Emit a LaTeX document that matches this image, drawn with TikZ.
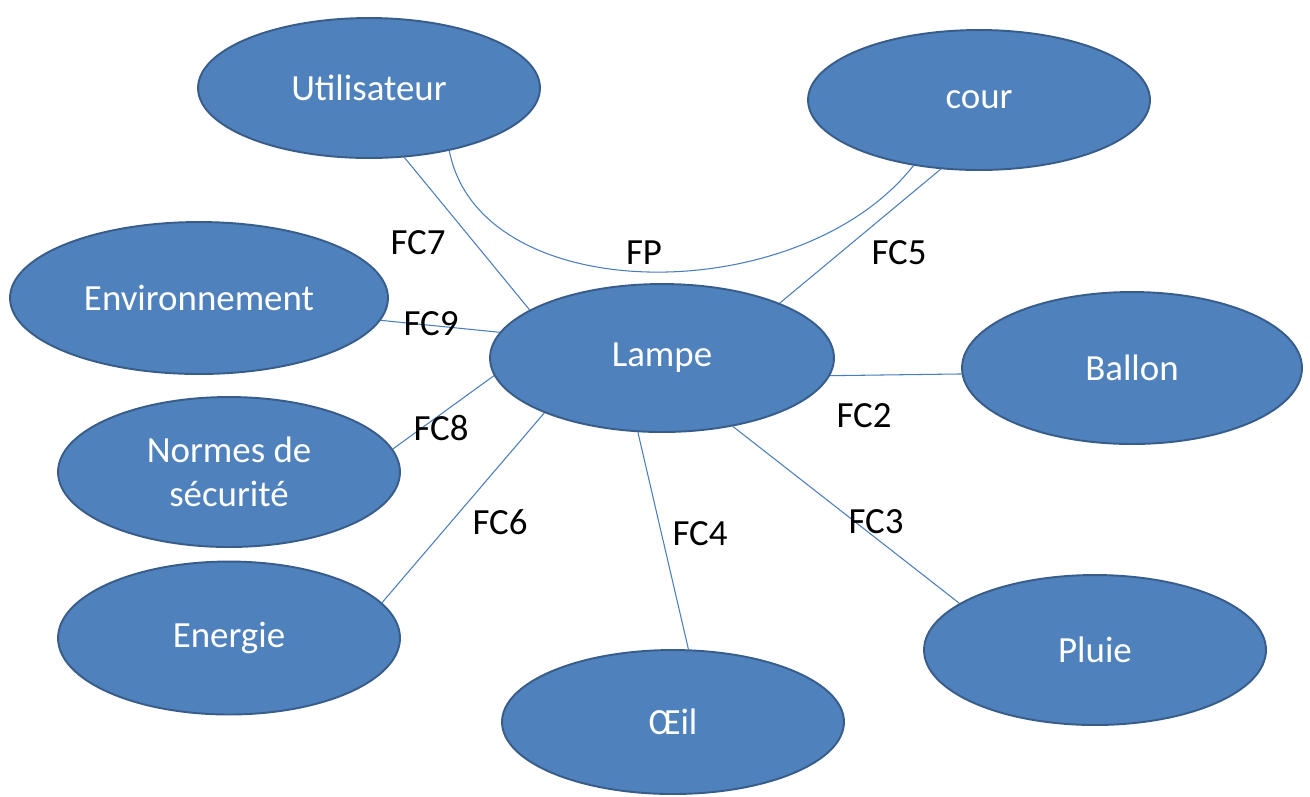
\documentclass[tikz,border=0pt]{standalone}
\usepackage{fontspec}
\setmainfont{Carlito}
\usetikzlibrary{shapes.geometric,backgrounds}
\definecolor{bulle}{HTML}{4F81BD}
\definecolor{bord}{HTML}{385D8A}
\definecolor{trait}{HTML}{4A7EBB}

\begin{document}
\begin{tikzpicture}[x=0.02cm, y=-0.02cm,
	bulle/.style={draw=bord, line width=1.1pt, ellipse, fill=bulle, text=white, inner sep=0pt, align=center, font=\fontsize{21}{25}\selectfont},
	fc/.style={font=\fontsize{21}{25}\selectfont, text=black},
	lien/.style={draw=trait, line width=0.6pt}]
				\useasboundingbox (0, 0) rectangle (1310, 796);
				\node[bulle, minimum width=6.84cm, minimum height=2.8cm] (U)at(369, 88) {Utilisateur};
				\node[bulle, minimum width=6.84cm, minimum height=2.8cm] (C)at(979, 100) {cour};
				\node[bulle, minimum width=7.56cm, minimum height=3.04cm] (Env)at(199, 298) {Environnement};
				\node[bulle, minimum width=6.88cm, minimum height=2.96cm] (L)at(662, 358) {Lampe};
				\node[bulle, minimum width=6.8cm, minimum height=3.04cm] (B)at(1132, 368) {Ballon};
				\node[bulle, minimum width=6.84cm, minimum height=3cm] (N)at(229, 472) {Normes de\\sécurité};
				\node[bulle, minimum width=6.84cm, minimum height=3.06cm] (En)at(229, 638) {Energie};
				\node[bulle, minimum width=6.84cm, minimum height=2.88cm] (O)at(673, 722) {Œil};
				\node[bulle, minimum width=6.84cm, minimum height=3cm] (P)at(1095, 650) {Pluie};
				% fonctions
				\node[fc] (FP)at(644, 253) {FP};
				\node[fc] (FC2)at(864, 416) {FC2};
				\node[fc] (FC3)at(876, 522) {FC3};
				\node[fc] (FC4)at(700, 534) {FC4};
				\node[fc] (FC5)at(899, 253) {FC5};
				\node[fc] (FC6)at(500, 522) {FC6};
				\node[fc] (FC7)at(418, 243) {FC7};
				\node[fc] (FC8)at(441, 428) {FC8};
				\node[fc] (FC9)at(431, 324) {FC9};
				\begin{scope}[on background layer]
				\draw[lien] (U.322) .. controls (480, 310) and (800, 310) .. (C.225);
				\draw[lien] (L.354) -- (B.182);
				\draw[lien] (L.316) -- (P.161);
				\draw[lien] (L.252) -- (O.78);
				\draw[lien] (L.25) -- (C.241);
				\draw[lien] (L.205) -- (En.13);
				\draw[lien] (L.160) -- (U.297);
				\draw[lien] (L.186) -- (N.8);
				\draw[lien] (L.171) -- (Env.353);
				\end{scope}
			\end{tikzpicture}
\end{document}
